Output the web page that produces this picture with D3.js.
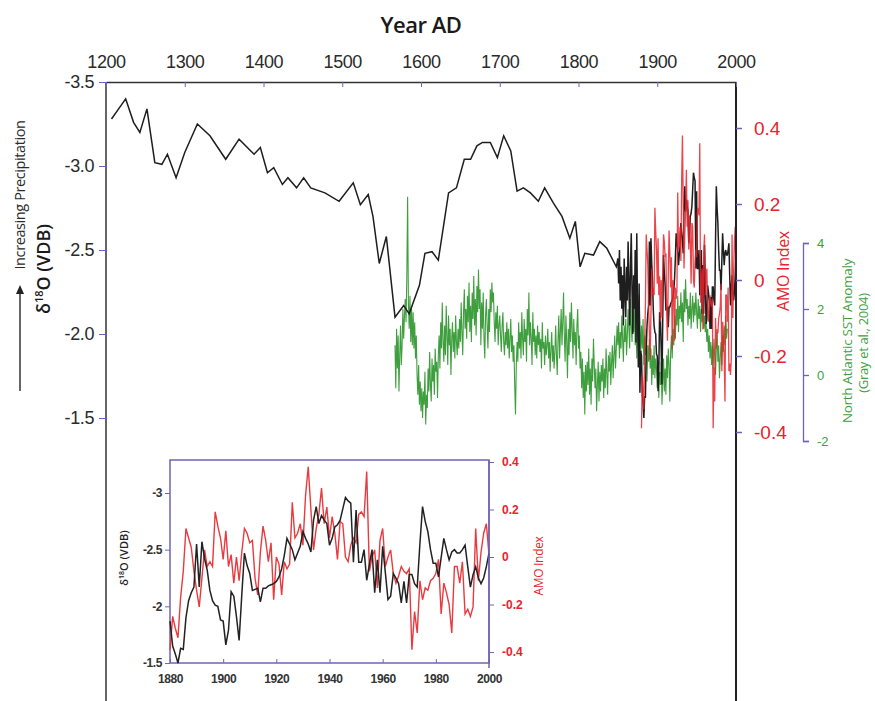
<!DOCTYPE html>
<html>
<head>
<meta charset="utf-8">
<script src="https://cdn.jsdelivr.net/npm/d3@7"></script>
<style>
  body { margin: 0; background: #fff; }
  svg { display: block; font-family: "Open Sans", sans-serif; }
</style>
</head>
<body>
<svg></svg>
<script>
// low resolution d18O record (years AD, permil VDB)
const blackYears = [1207,1216,1225,1235,1243,1252,1262,1271,1278,1289,1300,1316,1332,1352,1369,1388,1396,1405,1413,1424,
  1431,1442,1451,1460,1478,1496,1514,1523,1533,1539,1547,1556,1567,1578,1585,1598,1605,1614,1622,1635,
  1645,1655,1663,1671,1678,1688,1697,1705,1714,1722,1730,1739,1749,1757,1768,1779,1789,1796,1802,1808,
  1819,1827,1836,1848];
const blackVals = [-3.28,-3.34,-3.40,-3.26,-3.20,-3.34,-3.02,-3.01,-3.07,-2.93,-3.08,-3.25,-3.18,-3.04,-3.16,-3.07,-3.11,-2.96,-2.99,-2.89,
  -2.93,-2.87,-2.93,-2.87,-2.84,-2.79,-2.90,-2.77,-2.83,-2.70,-2.42,-2.58,-2.10,-2.17,-2.12,-2.29,-2.48,-2.49,-2.44,-2.84,
  -2.87,-3.04,-3.04,-3.12,-3.14,-3.14,-3.05,-3.18,-3.09,-2.85,-2.87,-2.84,-2.79,-2.87,-2.78,-2.70,-2.57,-2.67,-2.40,-2.48,
  -2.47,-2.55,-2.51,-2.40];

// annual d18O 1850-1879
const blackEarlyStart = 1850;
const blackEarly = [-2.45,-2.30,-2.50,-2.20,-2.40,-2.15,-2.35,-2.05,-2.45,-2.25,-2.10,-2.40,-2.20,-2.55,-2.30,
  -2.05,-2.40,-2.60,-2.25,-2.00,-2.35,-2.15,-2.50,-1.95,-2.60,-2.10,-1.80,-2.30,-1.65,-1.90];

// annual d18O and AMO index 1880-2000 (also used in the inset)
const modernStart = 1880;
const blackModern = [-1.87,-1.65,-1.58,-1.50,-1.63,-1.62,-1.90,-2.05,-2.12,-2.17,
  -2.55,-2.17,-2.57,-2.42,-2.32,-2.14,-2.05,-2.01,-2.00,-1.88,
  -1.87,-1.66,-1.79,-2.13,-2.09,-1.91,-1.70,-2.10,-2.47,-2.36,
  -2.29,-2.14,-2.15,-2.16,-2.04,-2.16,-2.16,-2.18,-2.19,-2.20,
  -2.22,-2.26,-2.33,-2.45,-2.60,-2.55,-2.50,-2.41,-2.47,-2.53,
  -2.66,-2.60,-2.55,-2.48,-2.76,-2.88,-2.73,-2.80,-2.76,-2.73,
  -2.54,-2.60,-2.70,-2.72,-2.76,-2.86,-2.96,-2.93,-2.91,-2.39,
  -2.85,-2.39,-2.39,-2.50,-2.23,-2.37,-2.50,-2.12,-2.41,-2.12,
  -2.53,-2.30,-2.06,-2.09,-2.29,-2.25,-2.20,-2.03,-2.22,-2.03,
  -2.28,-2.28,-2.20,-2.17,-2.55,-2.88,-2.75,-2.66,-2.50,-2.38,
  -2.38,-2.26,-2.43,-2.60,-2.50,-2.41,-2.48,-2.50,-2.47,-2.47,
  -2.50,-2.54,-2.35,-2.17,-2.28,-2.35,-2.25,-2.20,-2.25,-2.35,
  -2.47];
const amoModern = [-0.39,-0.25,-0.30,-0.34,-0.17,-0.06,0.12,0.08,0.04,-0.06,
  -0.14,-0.21,-0.09,0.03,-0.04,-0.02,-0.04,0.19,0.13,0.08,
  -0.01,0.11,-0.04,0.01,-0.11,0.00,-0.10,0.02,0.12,0.10,
  0.06,0.07,-0.09,-0.16,0.02,0.13,0.07,-0.02,0.06,-0.18,
  0.00,-0.03,-0.16,-0.02,-0.05,-0.03,0.23,0.08,0.10,0.14,
  0.05,0.26,0.38,0.20,0.03,0.12,0.18,0.29,0.14,0.21,
  0.08,0.17,0.10,-0.01,0.15,0.14,0.00,-0.02,0.05,0.08,
  0.06,0.18,0.19,0.17,0.36,-0.06,0.00,0.03,-0.13,0.07,
  0.12,-0.04,0.00,0.03,-0.07,-0.11,-0.08,-0.04,-0.06,-0.07,
  -0.05,-0.39,-0.23,-0.32,-0.10,-0.18,-0.13,-0.14,-0.10,-0.09,
  -0.07,-0.01,-0.24,-0.11,-0.15,-0.20,-0.32,-0.04,-0.04,-0.11,
  -0.02,-0.24,-0.22,-0.25,-0.21,0.12,-0.10,0.02,0.10,0.14,
  0.01];

// North Atlantic SST anomaly (Gray et al., 2004), annual from 1567
const sstStart = 1567;
const sstVals = [0.9,-0.4,1.4,
  0.2,1.2,-0.5,0.6,1.5,0.3,0.9,2.0,1.1,1.8,
  2.3,1.6,3.0,5.4,2.2,1.4,2.4,1.0,2.0,0.9,
  1.9,0.8,1.6,0.5,1.2,0.0,-0.6,0.3,-0.9,-0.2,
  -1.1,-0.4,-1.3,-0.5,-0.9,0.1,-1.5,-0.6,-1.0,0.2,
  -0.5,0.7,-0.3,-0.8,0.5,-0.2,0.3,-0.6,0.8,0.1,
  0.4,-0.7,0.6,1.2,0.2,1.6,0.8,2.2,1.0,0.4,
  1.5,0.6,2.1,1.2,0.3,1.8,0.9,1.4,0.0,1.1,
  1.6,0.7,1.3,0.5,1.8,1.0,0.6,1.4,0.8,1.7,
  1.0,2.2,1.3,0.6,1.9,2.6,1.4,2.0,1.1,2.4,
  1.6,2.8,1.3,2.1,1.0,2.5,1.7,3.0,1.5,2.3,
  1.2,2.7,1.9,3.2,2.0,2.6,0.9,2.2,1.4,2.5,
  1.1,0.5,1.8,2.3,1.5,0.8,2.0,1.3,2.6,1.9,
  2.8,2.2,2.5,1.6,1.0,1.9,1.4,2.1,0.9,1.5,
  1.8,1.2,0.7,1.5,1.9,1.0,0.6,1.3,0.9,1.6,
  0.8,1.4,0.5,1.1,1.7,0.7,1.2,0.4,0.9,-0.3,
  -1.2,0.3,1.0,0.4,1.6,0.8,1.3,0.5,1.9,1.1,
  0.6,1.7,1.0,1.4,0.4,2.0,1.2,2.5,0.9,1.6,
  1.1,0.3,1.9,1.0,1.4,0.6,1.2,0.5,1.5,0.9,
  1.3,0.7,1.1,0.2,1.6,0.8,1.0,0.3,1.2,0.6,
  0.9,1.4,0.5,1.0,0.1,0.8,1.3,0.4,0.9,0.2,
  0.7,1.5,0.6,0.0,1.1,1.8,0.5,1.3,2.0,0.9,
  1.6,2.5,1.2,0.4,1.8,1.0,-0.1,1.4,0.6,1.9,
  1.0,2.2,1.4,0.5,1.7,0.9,1.3,0.3,1.5,2.0,
  0.8,1.2,0.2,0.7,-0.4,0.5,-0.7,0.1,-1.2,0.3,
  -0.5,0.4,-0.3,0.8,-0.6,0.2,-0.9,0.5,-0.2,1.1,
  0.3,-0.4,0.2,-1.1,-0.3,0.4,-0.8,0.1,-0.5,0.3,
  -0.2,0.5,-0.7,0.2,-0.4,0.8,0.0,-0.6,0.6,0.1,
  0.7,-0.3,0.4,0.9,-0.1,0.6,1.2,0.2,0.8,1.5,
  0.9,1.6,0.5,1.3,0.8,1.8,1.1,0.4,1.5,1.0,
  1.7,0.6,1.2,2.0,1.4,0.8,2.3,1.5,1.0,1.9,
  1.3,2.2,0.9,1.6,0.5,1.8,1.1,2.4,1.4,0.7,
  1.5,0.8,1.7,0.3,1.2,0.6,1.4,-0.2,0.9,0.4,
  1.1,0.2,0.8,-0.3,0.6,0.0,0.9,-0.1,0.5,0.2,
  -0.4,0.3,-0.7,0.1,-0.3,0.4,-0.9,-0.2,0.5,-0.5,
  0.2,-0.6,0.6,-0.1,0.8,0.3,-0.8,0.7,1.2,0.5,
  1.4,0.9,1.8,1.1,2.0,1.5,2.4,1.3,2.1,1.7,
  2.5,1.6,2.2,1.0,2.6,1.9,2.9,2.0,2.3,1.5,
  2.1,1.7,2.5,1.4,2.0,2.4,1.6,2.2,1.8,2.5,
  1.9,1.4,2.3,1.7,2.1,1.3,2.0,1.6,2.2,1.4,
  1.8,1.3,1.6,1.0,1.4,0.7,1.2,0.5,1.0,0.3,
  0.9,0.2,1.1,0.6,0.0,0.8,1.3,0.4,0.9,-0.1,
  0.5,1.0,0.3,1.2,0.7,1.5,0.9,1.8,1.1,1.4];

// tick labels
const yearTicks = [1200,1300,1400,1500,1600,1700,1800,1900,2000];
const d18Ticks = [-3.5,-3.0,-2.5,-2.0,-1.5];
const amoTicks = [0.4,0.2,0,-0.2,-0.4];
const sstTicks = [4,2,0,-2];
const insetYearTicks = [1880,1900,1920,1940,1960,1980,2000];
const insetD18Ticks = [-3,-2.5,-2,-1.5];

let width = 875, height = 701;
const purple = '#6f63b8', red = '#e8232b', green = '#3f9f3f', ink = '#2a2a2a';

let svg = d3.select('svg').attr('width', width).attr('height', height);

// build point lists
const annual = (start, vals) => vals.map((v, i) => ({year: start + i, v: v}));
let blackAll = blackYears.map((y, i) => ({year: y, v: blackVals[i]}))
  .concat(annual(blackEarlyStart, blackEarly))
  .concat(annual(modernStart, blackModern));
let amo = annual(modernStart, amoModern);
let sst = annual(sstStart, sstVals);
let blackInset = annual(modernStart, blackModern);

// main scales
let x = d3.scaleLinear().domain([1200, 2000]).range([106, 736]);
let yL = d3.scaleLinear().domain([-3.5, -1.5]).range([82, 418]);
let yA = d3.scaleLinear().domain([-0.4, 0.4]).range([432, 128]);
let yS = d3.scaleLinear().domain([-2, 4]).range([441, 243]);

// series
svg.append('path').datum(sst)
  .attr('d', d3.line().x(d => x(d.year)).y(d => yS(d.v)))
  .attr('fill', 'none').attr('stroke', green).attr('stroke-width', 1.1);
svg.append('path').datum(blackAll)
  .attr('d', d3.line().x(d => x(d.year)).y(d => yL(d.v)))
  .attr('fill', 'none').attr('stroke', '#1e1e1e').attr('stroke-width', 1.5);
svg.append('path').datum(amo)
  .attr('d', d3.line().x(d => x(d.year)).y(d => yA(d.v)))
  .attr('fill', 'none').attr('stroke', red).attr('stroke-width', 1.3).attr('opacity', 0.85);

// frame lines
svg.append('line').attr('x1', 106).attr('x2', 106).attr('y1', 82).attr('y2', height)
  .attr('stroke', '#333').attr('stroke-width', 1.5);
svg.append('line').attr('x1', 736).attr('x2', 736).attr('y1', 82).attr('y2', height)
  .attr('stroke', '#222').attr('stroke-width', 2);

// top year axis
let xAxis = svg.append('g').attr('transform', 'translate(0,82)')
  .call(d3.axisTop(x).tickValues(yearTicks).tickFormat(d3.format('d'))
    .tickSizeInner(-5).tickSizeOuter(0).tickPadding(14));
xAxis.select('.domain').attr('stroke', '#333').attr('stroke-width', 1.5);
xAxis.selectAll('.tick line').attr('stroke', purple);
xAxis.selectAll('text').attr('fill', ink).style('font-size', '18px').style('letter-spacing', '-0.4px');

// left d18O axis
let yAxis = svg.append('g').attr('transform', 'translate(106,0)')
  .call(d3.axisLeft(yL).tickValues(d18Ticks).tickFormat(d => d.toFixed(1))
    .tickSize(7).tickPadding(5));
yAxis.select('.domain').remove();
yAxis.selectAll('.tick line').attr('stroke', purple);
yAxis.selectAll('text').attr('fill', ink).style('font-size', '18px').style('letter-spacing', '-0.4px');

// AMO axis
let aAxis = svg.append('g').attr('transform', 'translate(736,0)')
  .call(d3.axisRight(yA).tickValues(amoTicks).tickFormat(d => d === 0 ? '0' : d.toFixed(1))
    .tickSize(6).tickPadding(12));
aAxis.select('.domain').remove();
aAxis.selectAll('.tick line').attr('stroke', purple).attr('stroke-width', 1.5);
aAxis.selectAll('text').attr('fill', red).style('font-size', '19px');

// SST axis
let sAxis = svg.append('g').attr('transform', 'translate(803,0)')
  .call(d3.axisRight(yS).tickValues(sstTicks).tickFormat(d => String(d)).tickSize(6).tickPadding(8));
sAxis.select('.domain').attr('stroke', purple).attr('stroke-width', 1.3);
sAxis.selectAll('.tick line').attr('stroke', purple).attr('stroke-width', 1.3);
sAxis.selectAll('text').attr('fill', green).style('font-size', '13px');

// titles
svg.append('text').attr('x', 421).attr('y', 33).attr('text-anchor', 'middle')
  .attr('fill', '#1a1a1a').style('font-size', '22px').style('font-weight', 600)
  .style('letter-spacing', '-0.5px').text('Year AD');

svg.append('text').attr('transform', 'translate(25,195) rotate(-90)').attr('text-anchor', 'middle')
  .attr('fill', ink).style('font-size', '14.5px').style('letter-spacing', '-0.4px')
  .text('Increasing Precipitation');
svg.append('line').attr('x1', 20).attr('x2', 20).attr('y1', 391).attr('y2', 292)
  .attr('stroke', '#333').attr('stroke-width', 1.5);
svg.append('path').attr('d', 'M20,285 L16,294 L24,294 Z').attr('fill', '#222');

let dTitle = svg.append('text').attr('transform', 'translate(50,269) rotate(-90)')
  .attr('text-anchor', 'middle').attr('fill', '#1a1a1a')
  .style('font-size', '18px').style('font-weight', 600);
dTitle.append('tspan').text('δ');
dTitle.append('tspan').attr('dy', -7).style('font-size', '11px').text('18');
dTitle.append('tspan').attr('dy', 7).text('O (VDB)');

svg.append('text').attr('transform', 'translate(789,271) rotate(-90)').attr('text-anchor', 'middle')
  .attr('fill', red).style('font-size', '16px').style('letter-spacing', '-0.3px').text('AMO Index');

svg.append('text').attr('transform', 'translate(852,341) rotate(-90)').attr('text-anchor', 'middle')
  .attr('fill', green).style('font-size', '13.5px').style('letter-spacing', '-0.3px')
  .text('North Atlantic SST Anomaly');
svg.append('text').attr('transform', 'translate(868,343) rotate(-90)').attr('text-anchor', 'middle')
  .attr('fill', green).style('font-size', '13px').style('letter-spacing', '-0.3px')
  .text('(Gray et al., 2004)');

// ---- inset ----
let xi = d3.scaleLinear().domain([1880, 2000]).range([170, 489]);
let yi = d3.scaleLinear().domain([-3, -1.5]).range([493, 663]);
let ya = d3.scaleLinear().domain([-0.4, 0.4]).range([652, 462]);

svg.append('rect').attr('x', 170).attr('y', 460).attr('width', 319).attr('height', 203)
  .attr('fill', '#fff').attr('stroke', purple).attr('stroke-width', 1.5);

svg.append('path').datum(amo)
  .attr('d', d3.line().x(d => xi(d.year)).y(d => ya(d.v)))
  .attr('fill', 'none').attr('stroke', '#e83a3f').attr('stroke-width', 1.4);
svg.append('path').datum(blackInset)
  .attr('d', d3.line().x(d => xi(d.year)).y(d => yi(d.v)))
  .attr('fill', 'none').attr('stroke', '#222').attr('stroke-width', 1.5);

let xiAxis = svg.append('g').attr('transform', 'translate(0,663)')
  .call(d3.axisBottom(xi).tickValues(insetYearTicks).tickFormat(d3.format('d'))
    .tickSizeInner(-4).tickSizeOuter(0).tickPadding(11));
xiAxis.select('.domain').remove();
xiAxis.selectAll('.tick line').attr('stroke', purple);
xiAxis.selectAll('text').attr('fill', '#333').style('font-size', '12px').style('font-weight', 600)
  .style('letter-spacing', '-0.4px');

let yiAxis = svg.append('g').attr('transform', 'translate(170,0)')
  .call(d3.axisLeft(yi).tickValues(insetD18Ticks).tickFormat(d => String(d))
    .tickSize(5).tickPadding(3));
yiAxis.select('.domain').remove();
yiAxis.selectAll('.tick line').attr('stroke', purple);
yiAxis.selectAll('text').attr('fill', '#333').style('font-size', '12px').style('font-weight', 600)
  .style('letter-spacing', '-0.4px');

let yaAxis = svg.append('g').attr('transform', 'translate(489,0)')
  .call(d3.axisRight(ya).tickValues(amoTicks).tickFormat(d => d === 0 ? '0' : d.toFixed(1))
    .tickSize(5).tickPadding(8));
yaAxis.select('.domain').remove();
yaAxis.selectAll('.tick line').attr('stroke', purple);
yaAxis.selectAll('text').attr('fill', red).style('font-size', '12px').style('font-weight', 600);
svg.append('line').attr('x1', 489).attr('x2', 489).attr('y1', 460).attr('y2', 668)
  .attr('stroke', purple).attr('stroke-width', 1.5);

let iTitle = svg.append('text').attr('transform', 'translate(128,558) rotate(-90)')
  .attr('text-anchor', 'middle').attr('fill', '#222')
  .style('font-size', '11px').style('font-weight', 600);
iTitle.append('tspan').text('δ');
iTitle.append('tspan').attr('dy', -4).style('font-size', '7px').text('18');
iTitle.append('tspan').attr('dy', 4).text('O (VDB)');

svg.append('text').attr('transform', 'translate(543,566) rotate(-90)').attr('text-anchor', 'middle')
  .attr('fill', red).style('font-size', '12px').style('letter-spacing', '-0.3px').text('AMO Index');
</script>
</body>
</html>
